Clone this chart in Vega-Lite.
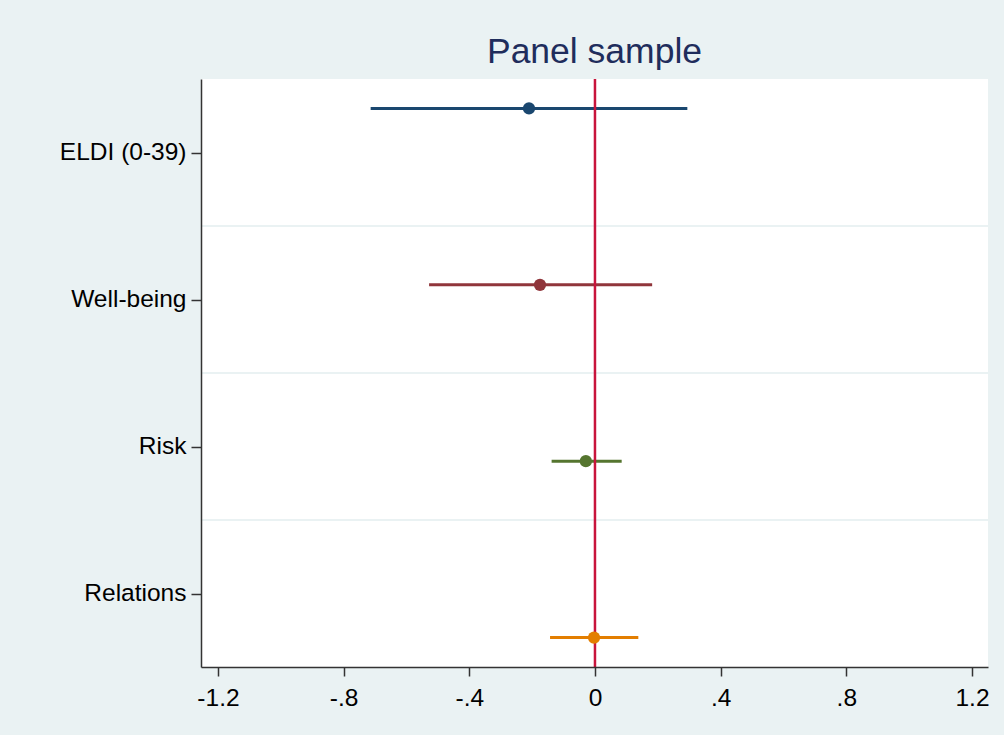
{
  "$schema": "https://vega.github.io/schema/vega-lite/v6.json",
  "width": 787,
  "height": 588,
  "autosize": {"type": "none"},
  "padding": {"left": 201, "top": 79, "right": 16, "bottom": 68},
  "background": "#EAF2F3",
  "config": {"view": {"fill": "white", "stroke": null}, "font": "Liberation Sans"},
  "title": {"text": "Panel sample", "fontSize": 35.5, "font": "Liberation Sans", "fontWeight": "normal", "color": "#1f2d5c", "anchor": "middle", "baseline": "alphabetic", "offset": 13, "dy": 34},
  "datasets": {
    "coefs": [
      {"label": "ELDI (0-39)", "pos": 0.7, "coef": -0.21, "lo": -0.714, "hi": 0.294},
      {"label": "Well-being", "pos": 1.9, "coef": -0.175, "lo": -0.528, "hi": 0.182},
      {"label": "Risk", "pos": 3.1, "coef": -0.029, "lo": -0.138, "hi": 0.085},
      {"label": "Relations", "pos": 4.3, "coef": -0.003, "lo": -0.143, "hi": 0.138}
    ],
    "grid": [{"g": 1.5}, {"g": 2.5}, {"g": 3.5}],
    "zero": [{"z": 0}]
  },
  "layer": [
    {
      "data": {"name": "grid"},
      "mark": {"type": "rule", "color": "#EAF2F3", "strokeWidth": 2},
      "encoding": {
        "y": {"field": "g", "type": "quantitative", "scale": {"domain": [0.5, 4.5], "reverse": true, "nice": false, "zero": false},
          "axis": {"values": [1, 2, 3, 4], "labelExpr": "['','ELDI (0-39)','Well-being','Risk','Relations'][datum.value]", "title": null, "grid": false, "zindex": 1, "domainColor": "#333333", "domainWidth": 1.5, "tickColor": "#333333", "tickWidth": 1.5, "tickSize": 10, "labelPadding": 5, "labelFontSize": 24.5, "labelColor": "#000000", "labelFont": "Liberation Sans"}}
      }
    },
    {
      "data": {"name": "coefs"},
      "mark": {"type": "rule", "strokeWidth": 3},
      "encoding": {
        "y": {"field": "pos", "type": "quantitative"},
        "x": {"field": "lo", "type": "quantitative", "scale": {"domain": [-1.254, 1.251], "nice": false, "zero": false},
          "axis": {"values": [-1.2, -0.8, -0.4, 0, 0.4, 0.8, 1.2], "labelExpr": "datum.value == 0 ? '0' : replace(replace(format(datum.value, '.1f'), '\u2212', '-'), '0.', '.')", "title": null, "grid": false, "zindex": 1, "domainColor": "#333333", "domainWidth": 1.5, "tickColor": "#333333", "tickWidth": 1.5, "tickSize": 9, "labelPadding": 10, "labelFontSize": 24.5, "labelColor": "#000000", "labelFont": "Liberation Sans"}},
        "x2": {"field": "hi"},
        "color": {"field": "label", "type": "nominal", "scale": {"domain": ["ELDI (0-39)", "Well-being", "Risk", "Relations"], "range": ["#1a476f", "#90353b", "#55752f", "#e37e00"]}, "legend": null}
      }
    },
    {
      "data": {"name": "zero"},
      "mark": {"type": "rule", "color": "#c8143c", "strokeWidth": 2.5},
      "encoding": {"x": {"field": "z", "type": "quantitative"}}
    },
    {
      "data": {"name": "coefs"},
      "mark": {"type": "point", "shape": "circle", "filled": true, "opacity": 1, "size": 150},
      "encoding": {
        "y": {"field": "pos", "type": "quantitative"},
        "x": {"field": "coef", "type": "quantitative"},
        "color": {"field": "label", "type": "nominal", "legend": null}
      }
    }
  ]
}
